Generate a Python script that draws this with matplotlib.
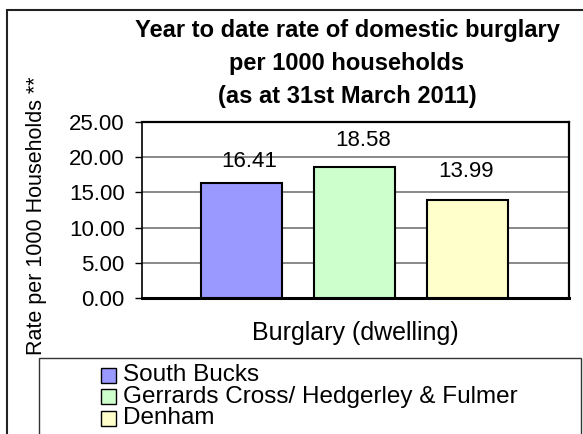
import matplotlib
matplotlib.use("Agg")
import matplotlib.pyplot as plt
from matplotlib.patches import Rectangle

# ---- data ----
title_lines = ["Year to date rate of domestic burglary", "per 1000 households", "(as at 31st March 2011)"]
category = "Burglary (dwelling)"
series_names = ["South Bucks", "Gerrards Cross/ Hedgerley & Fulmer", "Denham"]
series_values = [16.41, 18.58, 13.99]
series_colors = ["#9999FF", "#CCFFCC", "#FFFFCC"]
y_ticks = [0, 5, 10, 15, 20, 25]
y_label = "Rate per 1000 Households **"

plt.rcParams['font.family'] = ['Liberation Sans', 'DejaVu Sans']

W, H = 583, 434
fig = plt.figure(figsize=(W / 100, H / 100), dpi=100)

def fx(px):
    return px / W

def fy(py):
    return 1 - py / H

# outer chart border
fig.patches.append(Rectangle((fx(7), fy(470)), fx(600) - fx(7), fy(10) - fy(470),
                             transform=fig.transFigure, fill=False,
                             edgecolor="#222222", linewidth=1.5, zorder=0))

left, right, top, bottom = 141.7, 569, 122.3, 297.7
ax = fig.add_axes([fx(left), fy(bottom), fx(right) - fx(left), fy(top) - fy(bottom)])

positions = [-1, 0, 1]
bar_w = 0.715
bars = ax.bar(positions, series_values, width=bar_w, color=series_colors,
              edgecolor="black", linewidth=1.5, zorder=3)

label_dx = [8, 9, -2]      # px offsets (style)
label_dy = [11, 16, 18]
for b, v, dx, dy in zip(bars, series_values, label_dx, label_dy):
    ax.annotate(f"{v:.2f}", (b.get_x() + b.get_width() / 2, v),
                xytext=(dx * 0.72, dy * 0.72), textcoords="offset points",
                ha="center", va="bottom", fontsize=16, color="black")

ax.set_xlim(-1.878, 1.893)
ax.set_ylim(0, 25)
ax.set_yticks(y_ticks)
ax.set_yticklabels([f"{t:.2f}" for t in y_ticks], fontsize=16)
ax.set_xticks([])
ax.yaxis.grid(True, color="#808080", linewidth=1.3, zorder=0)
ax.set_axisbelow(True)
ax.tick_params(axis="y", direction="out", length=4.7, width=1, pad=7.5, color="black")
for s in ["top", "right"]:
    ax.spines[s].set_linewidth(1.6)
ax.spines["left"].set_linewidth(1.2)
ax.spines["bottom"].set_linewidth(2.2)

# title
for line, y in zip(title_lines, [30, 63.5, 97]):
    fig.text(fx(347), fy(y), line, ha="center", va="center",
             fontsize=17, fontweight="bold")

# axis labels
fig.text(fx(36.5), fy(216), y_label, rotation=90, ha="center", va="center", fontsize=15.5)
fig.text(fx(355), fy(333), category, ha="center", va="center", fontsize=18)

# legend box (manual)
fig.patches.append(Rectangle((fx(39), fy(470)), fx(581) - fx(39), fy(358.3) - fy(470),
                             transform=fig.transFigure, fill=False,
                             edgecolor="#333333", linewidth=1.0, zorder=1))
row_y = [375, 396.7, 418]
for name, col, y in zip(series_names, series_colors, row_y):
    fig.patches.append(Rectangle((fx(101), fy(y + 7.5)), fx(116) - fx(101), fy(y - 7.5) - fy(y + 7.5),
                                 transform=fig.transFigure, facecolor=col,
                                 edgecolor="black", linewidth=1.0, zorder=2))
    fig.text(fx(123), fy(y), name, ha="left", va="center", fontsize=17.5)

fig.savefig("out.png", dpi=100)
